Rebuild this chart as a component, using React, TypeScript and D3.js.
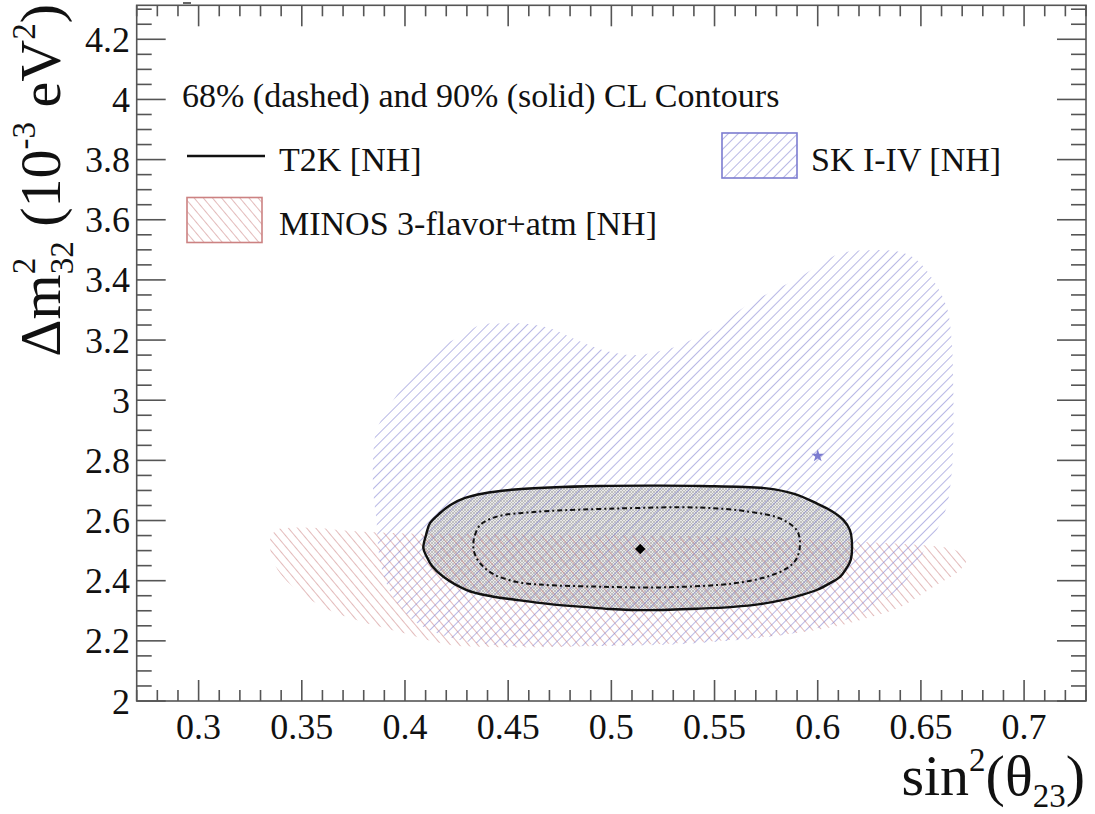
import React from "react";
import * as d3 from "d3";

const W = 1095;
const H = 814;

// axis ranges and tick values
const xDomain: [number, number] = [0.27, 0.73];
const yDomain: [number, number] = [2.0, 4.313];
const xMajorTicks = [0.3, 0.35, 0.4, 0.45, 0.5, 0.55, 0.6, 0.65, 0.7];
const yMajorTicks = [2.0, 2.2, 2.4, 2.6, 2.8, 3.0, 3.2, 3.4, 3.6, 3.8, 4.0, 4.2];
const xMinorStep = 0.01;
const yMinorStep = 0.05;

// T2K [NH] 90% CL contour (sin^2 theta23, dm2_32 in 1e-3 eV^2)
const t2k90: [number, number][] = [
  [0.4089, 2.508], [0.4102, 2.552], [0.4121, 2.591], [0.417, 2.625], [0.4218, 2.651],
  [0.4291, 2.675], [0.438, 2.69], [0.4533, 2.703], [0.4703, 2.71], [0.4945, 2.715],
  [0.5187, 2.716], [0.543, 2.715], [0.5753, 2.707], [0.589, 2.688], [0.5995, 2.657],
  [0.6069, 2.631], [0.6124, 2.602], [0.6156, 2.568], [0.6165, 2.535], [0.616, 2.469],
  [0.6137, 2.439], [0.6108, 2.413], [0.606, 2.392], [0.5995, 2.369], [0.5914, 2.351],
  [0.5833, 2.336], [0.572, 2.322], [0.5591, 2.313], [0.543, 2.307], [0.5187, 2.302],
  [0.4993, 2.306], [0.4864, 2.313], [0.4703, 2.322], [0.4541, 2.336], [0.4412, 2.349],
  [0.4299, 2.369], [0.4186, 2.413], [0.4131, 2.449], [0.4105, 2.48],
];

// T2K [NH] 68% CL contour
const t2k68: [number, number][] = [
  [0.4331, 2.513], [0.4339, 2.552], [0.4364, 2.585], [0.4412, 2.605], [0.4476, 2.618],
  [0.4582, 2.626], [0.4703, 2.632], [0.5026, 2.64], [0.543, 2.643], [0.5672, 2.629],
  [0.5817, 2.607], [0.5898, 2.568], [0.5914, 2.524], [0.5898, 2.474], [0.585, 2.441],
  [0.5753, 2.413], [0.5591, 2.391], [0.5268, 2.378], [0.4945, 2.38], [0.4654, 2.387],
  [0.4541, 2.396], [0.4436, 2.419], [0.438, 2.446], [0.4344, 2.479],
];

// SK I-IV [NH] contour
const skContour: [number, number][] = [
  [0.3863, 2.591], [0.3846, 2.701], [0.3846, 2.812], [0.3863, 2.901], [0.3943, 3.0],
  [0.4024, 3.073], [0.4089, 3.122], [0.417, 3.177], [0.4267, 3.211], [0.4364, 3.25],
  [0.446, 3.255], [0.4573, 3.255], [0.4703, 3.239], [0.4832, 3.2], [0.4961, 3.166],
  [0.5106, 3.15], [0.5252, 3.166], [0.5349, 3.189], [0.551, 3.244], [0.5672, 3.322],
  [0.5914, 3.41], [0.6108, 3.488], [0.6253, 3.499], [0.6399, 3.493], [0.648, 3.466],
  [0.656, 3.399], [0.6625, 3.31], [0.6649, 3.2], [0.6657, 3.034], [0.6657, 2.867],
  [0.6649, 2.757], [0.6625, 2.646], [0.6577, 2.568], [0.6528, 2.518], [0.6471, 2.442],
  [0.6374, 2.362], [0.6205, 2.289], [0.5914, 2.229], [0.543, 2.193], [0.4945, 2.183],
  [0.446, 2.186], [0.4267, 2.203], [0.4073, 2.253], [0.3952, 2.336], [0.3889, 2.435],
  [0.3869, 2.518],
];

// MINOS 3-flavor+atm [NH] contour
const minosContour: [number, number][] = [
  [0.3346, 2.535], [0.3375, 2.568], [0.3428, 2.575], [0.3574, 2.575], [0.3734, 2.565],
  [0.3976, 2.558], [0.446, 2.555], [0.4945, 2.552], [0.543, 2.548], [0.5914, 2.538],
  [0.6253, 2.528], [0.6559, 2.515], [0.6665, 2.502], [0.6723, 2.475], [0.6689, 2.435],
  [0.6617, 2.402], [0.6559, 2.379], [0.6399, 2.312], [0.6239, 2.276], [0.6074, 2.246],
  [0.5817, 2.219], [0.543, 2.196], [0.4945, 2.183], [0.446, 2.179], [0.4218, 2.186],
  [0.3976, 2.229], [0.3734, 2.276], [0.3603, 2.312], [0.3491, 2.362], [0.3409, 2.412],
  [0.336, 2.469],
];

const t2kBestFit: [number, number] = [0.514, 2.505];
const skBestFit: [number, number] = [0.6, 2.815];

const headerText = "68% (dashed) and 90% (solid) CL Contours";
const legendT2K = "T2K [NH]";
const legendMinos = "MINOS 3-flavor+atm [NH]";
const legendSK = "SK I-IV [NH]";

const FRAME = { left: 136.7, right: 1086, top: 5.3, bottom: 701 };
const SERIF = "'Liberation Serif', 'DejaVu Serif', 'Times New Roman', serif";
const AXIS_COLOR = "#555";
const BLUE = "#7c7cd0";
const RED = "#cc8282";
const HATCH = 7;

function stepRange(lo: number, hi: number, step: number): number[] {
  const n = Math.round((hi - lo) / step);
  return d3.range(0, n + 1).map((i) => +(lo + i * step).toFixed(4));
}

function fmt(v: number): string {
  return String(+v.toFixed(2));
}

export default function App() {
  const x = d3.scaleLinear().domain(xDomain).range([FRAME.left, FRAME.right]);
  const y = d3.scaleLinear().domain(yDomain).range([FRAME.bottom, FRAME.top]);

  const smooth = d3
    .line<[number, number]>()
    .x((d) => x(d[0]))
    .y((d) => y(d[1]))
    .curve(d3.curveCatmullRomClosed.alpha(0.5));

  const xMinor = stepRange(0.27, 0.73, xMinorStep).filter(
    (v) => v >= xDomain[0] - 1e-9 && v <= xDomain[1] + 1e-9
  );
  const yMinor = stepRange(2.0, 4.3, yMinorStep);

  const bestFitMark = d3.symbol(d3.symbolSquare, 55)() as string;
  const star = d3.symbol(d3.symbolStar, 50)() as string;

  const fw = FRAME.right - FRAME.left;
  const fh = FRAME.bottom - FRAME.top;

  return (
    <svg
      width={W}
      height={H}
      viewBox={`0 0 ${W} ${H}`}
      style={{ position: "absolute", left: 0, top: 0, background: "#fff" }}
    >
      <defs>
        <clipPath id="plotArea">
          <rect x={FRAME.left} y={FRAME.top} width={fw} height={fh} />
        </clipPath>
        <pattern id="hatchBlue" width={HATCH} height={HATCH} patternUnits="userSpaceOnUse" patternTransform="rotate(45)">
          <line x1={0} y1={0} x2={0} y2={HATCH} stroke={BLUE} strokeWidth={1.1} />
        </pattern>
        <pattern id="hatchRed" width={HATCH} height={HATCH} patternUnits="userSpaceOnUse" patternTransform="rotate(-40)">
          <line x1={0} y1={0} x2={0} y2={HATCH} stroke={RED} strokeWidth={1.1} />
        </pattern>
        <pattern id="meshGray" width={3} height={3} patternUnits="userSpaceOnUse">
          <rect width={3} height={3} fill="#e9e9e9" />
          <path d="M0,0 L3,3 M3,0 L0,3" stroke="#b0b0b0" strokeWidth={0.7} />
        </pattern>
      </defs>

      <rect x={0} y={0} width={W} height={H} fill="#fff" />

      {/* contours */}
      <g clipPath="url(#plotArea)">
        <path d={smooth(t2k90) as string} fill="url(#meshGray)" />
        <path d={smooth(minosContour) as string} fill="url(#hatchRed)" />
        <path d={smooth(skContour) as string} fill="url(#hatchBlue)" />
        <path d={smooth(t2k90) as string} fill="none" stroke="#111" strokeWidth={2.4} />
        <path
          d={smooth(t2k68) as string}
          fill="none"
          stroke="#111"
          strokeWidth={2}
          strokeDasharray="5,3,2,3"
        />
        <path
          d={bestFitMark}
          transform={`translate(${x(t2kBestFit[0])},${y(t2kBestFit[1])}) rotate(45)`}
          fill="#000"
        />
        <path d={star} transform={`translate(${x(skBestFit[0])},${y(skBestFit[1])})`} fill={BLUE} />
      </g>

      {/* frame and ticks */}
      <g stroke={AXIS_COLOR} strokeWidth={1.6} fill="none">
        <rect x={FRAME.left} y={FRAME.top} width={fw} height={fh} />
        {xMinor.map((v) => {
          const major = xMajorTicks.some((m) => Math.abs(m - v) < 1e-6);
          const len = major ? 21 : 11;
          return (
            <g key={`xt${v}`}>
              <line x1={x(v)} x2={x(v)} y1={FRAME.bottom} y2={FRAME.bottom - len} />
              <line x1={x(v)} x2={x(v)} y1={FRAME.top} y2={FRAME.top + len} />
            </g>
          );
        })}
        {yMinor.map((v) => {
          const major = yMajorTicks.some((m) => Math.abs(m - v) < 1e-6);
          const len = major ? 29 : 15;
          return (
            <g key={`yt${v}`}>
              <line x1={FRAME.left} x2={FRAME.left + len} y1={y(v)} y2={y(v)} />
              <line x1={FRAME.right} x2={FRAME.right - len} y1={y(v)} y2={y(v)} />
            </g>
          );
        })}
      </g>
      <line x1={183} x2={191} y1={3} y2={3} stroke="#333" strokeWidth={1.5} />

      {/* tick labels */}
      <g fontFamily={SERIF} fontSize={36} fill="#111">
        {xMajorTicks.map((v) => (
          <text key={`xl${v}`} x={x(v)} y={739} textAnchor="middle">
            {fmt(v)}
          </text>
        ))}
        {yMajorTicks.map((v) => (
          <text key={`yl${v}`} x={130} y={y(v) + 12.5} textAnchor="end">
            {fmt(v)}
          </text>
        ))}
      </g>

      {/* axis titles */}
      <text x={1085} y={795} textAnchor="end" fontFamily={SERIF} fontSize={58} fill="#111">
        sin
        <tspan fontSize={33} dy={-24}>2</tspan>
        <tspan dy={24}>(θ</tspan>
        <tspan fontSize={33} dy={12}>23</tspan>
        <tspan dy={-12}>)</tspan>
      </text>
      <g transform="translate(60,4) rotate(-90)">
        <text x={0} y={0} textAnchor="end" fontFamily={SERIF} fontSize={58} fill="#111">
          Δm
          <tspan fontSize={33} dy={-25}>2</tspan>
          <tspan fontSize={33} dx={-16.5} dy={38}>32</tspan>
          <tspan dy={-13}> (10</tspan>
          <tspan fontSize={33} dy={-25}>-3</tspan>
          <tspan dy={25}> eV</tspan>
          <tspan fontSize={33} dy={-25}>2</tspan>
          <tspan dy={25}>)</tspan>
        </text>
      </g>

      {/* legend */}
      <g fontFamily={SERIF} fontSize={34} fill="#111">
        <text x={182} y={107}>{headerText}</text>
        <line x1={187} x2={265} y1={156} y2={156} stroke="#111" strokeWidth={2.4} />
        <text x={279} y={171}>{legendT2K}</text>
        <rect x={187} y={197.5} width={75} height={45} fill="url(#hatchRed)" stroke={RED} strokeWidth={1.6} />
        <text x={279} y={235}>{legendMinos}</text>
        <rect x={722} y={133} width={75} height={45} fill="url(#hatchBlue)" stroke={BLUE} strokeWidth={1.6} />
        <text x={811} y={171}>{legendSK}</text>
      </g>
    </svg>
  );
}
